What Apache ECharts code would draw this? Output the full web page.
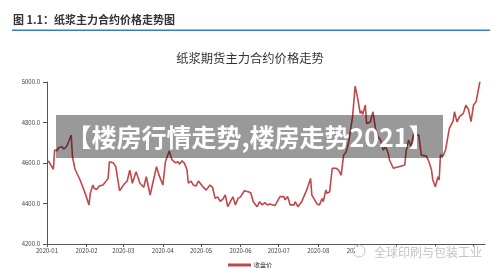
<!DOCTYPE html>
<html><head><meta charset="utf-8">
<script src="https://cdn.jsdelivr.net/npm/echarts@6/dist/echarts.min.js"></script>
<style>html,body{margin:0;padding:0;background:#fff}#c{width:500px;height:274px}</style>
</head><body><div id="c"></div>
<script>
const dates = ['2020-01-02','2020-01-03','2020-01-06','2020-01-07','2020-01-09','2020-01-10','2020-01-13','2020-01-14','2020-01-16','2020-01-17','2020-01-20','2020-01-21','2020-01-23','2020-01-27','2020-01-31',
'2020-02-03','2020-02-04','2020-02-06','2020-02-07','2020-02-09','2020-02-11','2020-02-14','2020-02-18','2020-02-19','2020-02-22','2020-02-24','2020-02-27',
'2020-03-01','2020-03-04','2020-03-06','2020-03-07','2020-03-08','2020-03-11','2020-03-14','2020-03-17','2020-03-19','2020-03-22','2020-03-27','2020-03-29',
'2020-04-01','2020-04-03','2020-04-06','2020-04-08','2020-04-11','2020-04-13','2020-04-14','2020-04-16','2020-04-18','2020-04-20','2020-04-21','2020-04-23','2020-04-25','2020-04-27','2020-04-29',
'2020-05-02','2020-05-05','2020-05-08','2020-05-10','2020-05-12','2020-05-14','2020-05-16','2020-05-18','2020-05-20','2020-05-22','2020-05-24','2020-05-26','2020-05-28','2020-05-30',
'2020-06-01','2020-06-04','2020-06-07','2020-06-09','2020-06-11','2020-06-14','2020-06-16','2020-06-18','2020-06-20','2020-06-22','2020-06-24','2020-06-28',
'2020-07-02','2020-07-05','2020-07-06','2020-07-08','2020-07-10','2020-07-13','2020-07-14','2020-07-16','2020-07-19','2020-07-23','2020-07-26','2020-07-27','2020-07-28','2020-07-31',
'2020-08-02','2020-08-04','2020-08-05','2020-08-07','2020-08-08','2020-08-10','2020-08-12','2020-08-15','2020-08-17','2020-08-19','2020-08-21','2020-08-23','2020-08-25','2020-08-28','2020-08-30',
'2020-09-01','2020-09-03','2020-09-04','2020-09-05','2020-09-07','2020-09-08','2020-09-11','2020-09-13','2020-09-15','2020-09-17','2020-09-19','2020-09-21','2020-09-23','2020-09-25','2020-09-26','2020-09-29',
'2020-10-08','2020-10-09','2020-10-11','2020-10-13','2020-10-15','2020-10-17','2020-10-19','2020-10-21','2020-10-25','2020-10-27','2020-10-29','2020-10-30',
'2020-11-01','2020-11-03','2020-11-04','2020-11-05','2020-11-07','2020-11-09','2020-11-10','2020-11-12','2020-11-15','2020-11-16','2020-11-18','2020-11-20','2020-11-23','2020-11-25','2020-11-27','2020-11-29',
'2020-12-01','2020-12-03','2020-12-06'];
const closePrice = [4611,4601,4569,4664,4661,4675,4680,4668,4678,4689,4738,4631,4569,4516,4450,
4393,4450,4491,4475,4469,4486,4491,4524,4606,4601,4582,4463,
4491,4511,4565,4536,4500,4557,4500,4480,4532,4442,4582,4540,
4491,4606,4659,4617,4601,4606,4594,4611,4598,4565,4500,4511,4491,4486,4511,
4486,4466,4491,4480,4425,4433,4411,4420,4442,4384,4409,4433,4393,4425,
4433,4463,4458,4453,4409,4384,4409,4393,4404,4393,4398,4390,
4434,4434,4418,4434,4393,4393,4409,4384,4409,4467,4524,4442,4431,4398,
4393,4425,4409,4467,4450,4458,4574,4574,4565,4540,4639,4656,4705,4829,4980,
4919,4845,4858,4840,4886,4795,4803,4853,4771,4730,4714,4664,4680,4648,4615,4574,
4590,4656,4714,4680,4747,4738,4738,4639,4634,4606,4565,4516,
4483,4532,4516,4639,4634,4664,4672,4771,4808,4853,4803,4829,4845,4886,4865,4804,
4886,4903,5002];
const seriesName = '收盘价';
const figTitle = '图 1.1：纸浆主力合约价格走势图';
const chartTitle = '纸浆期货主力合约价格走势';
const bannerText = '【楼房行情走势,楼房走势2021】';
const watermark = '全球印刷与包装工业';

const chart = echarts.init(document.getElementById('c'));
const FONT = '"Noto Sans CJK SC","Noto Sans",sans-serif';
chart.setOption({
  animation:false,
  textStyle:{fontFamily:FONT},
  title:{text:chartTitle,left:'center',top:47,textStyle:{fontSize:12.3,fontWeight:'normal',color:'#333',fontFamily:FONT}},
  legend:{bottom:1,left:'center',itemWidth:23,itemHeight:3,icon:'rect',itemGap:4,
    textStyle:{fontSize:6,color:'#333',padding:[0,0,0,-2]},data:[seriesName]},
  grid:{left:47,right:15,top:82,bottom:30},
  xAxis:{type:'time',min:'2020-01-01',max:'2020-12-10',splitNumber:11,
    axisLine:{lineStyle:{color:'#555',width:1}},
    axisTick:{show:true,length:3,lineStyle:{color:'#555'}},
    splitLine:{show:false},
    axisLabel:{fontSize:6,color:'#444',margin:4,showMaxLabel:false,
      formatter:function(v){const d=new Date(v);const m=d.getMonth()+1;return d.getFullYear()+'-'+(m<10?'0'+m:m);}}},
  yAxis:{type:'value',min:4200,max:5000,interval:200,
    axisLine:{show:true,lineStyle:{color:'#555',width:1}},
    axisTick:{show:true,length:4,lineStyle:{color:'#555'}},
    splitLine:{show:false},
    axisLabel:{fontSize:6,color:'#444',margin:7,formatter:function(v){return v.toFixed(1);}}},
  series:[{name:seriesName,type:'line',showSymbol:false,symbol:'none',
    data:dates.map((d,i)=>[d,closePrice[i]]),
    lineStyle:{color:'#c0474a',width:1.6},itemStyle:{color:'#c0474a'}}],
  graphic:[
    {type:'text',left:13,top:14,style:{text:figTitle,fontSize:11,fontWeight:'bold',fill:'#333',fontFamily:FONT}},
    {type:'rect',shape:{x:12,y:29.5,width:478,height:1.5},style:{fill:'#3a7cc0'}},
    {type:'rect',z:100,shape:{x:56,y:115,width:387,height:43},style:{fill:'rgba(0,0,0,0.4)'}},
    {type:'text',z:101,x:250,y:137,style:{text:bannerText,fontSize:25,fontWeight:'bold',fill:'#fff',align:'center',verticalAlign:'middle',fontFamily:FONT}},
    {type:'rect',z:100,shape:{x:355,y:246.5,width:137,height:14},style:{fill:'#fff'}},
    {type:'circle',z:101,shape:{cx:359,cy:251,r:6},style:{fill:'none',stroke:'#c8c8c8',lineWidth:1}},
    {type:'text',z:101,x:374,y:252,style:{text:watermark,fontSize:12,fill:'#c4c4c4',verticalAlign:'middle',fontFamily:FONT}}
  ]
});
</script></body></html>
